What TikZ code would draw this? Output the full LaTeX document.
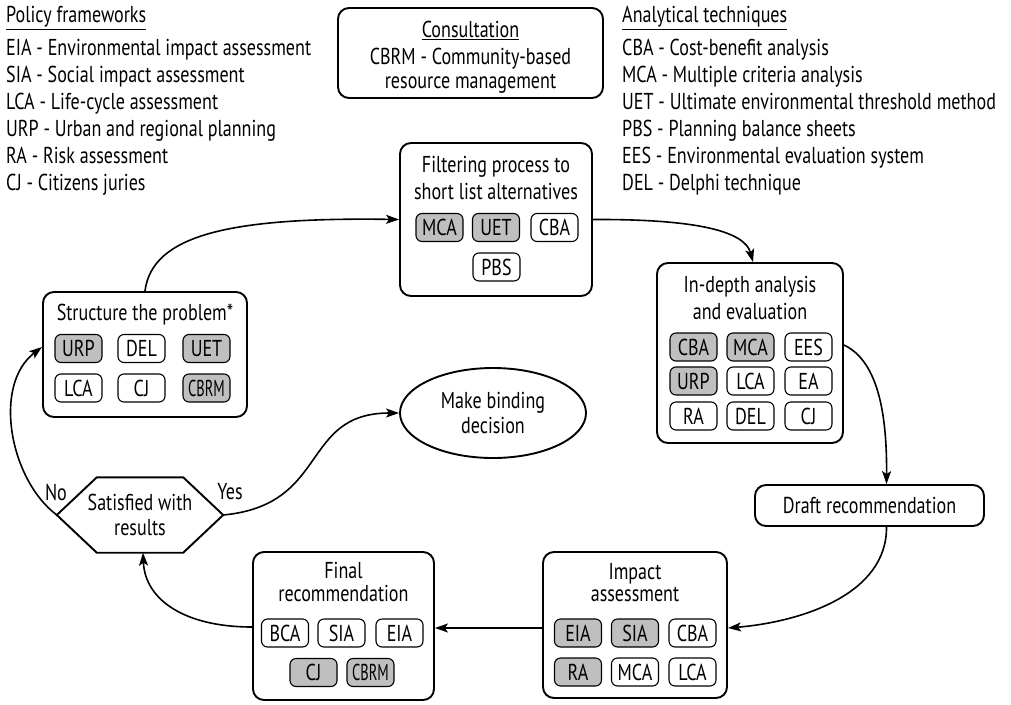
\documentclass[tikz,border=0pt]{standalone}
\usepackage{fontspec}
\usepackage{graphicx}
\setmainfont{PT Sans}[FakeStretch=0.785]
\usetikzlibrary{shapes.geometric,arrows.meta}
\newcommand{\cbrm}{\scalebox{0.8}[1]{CBRM}}
\newcommand{\fs}[1]{\fontsize{23}{#1}\selectfont}
\begin{document}
\begin{tikzpicture}[x=1pt,y=-1pt,
 every node/.style={font=\fs{27}},
 box/.style={draw, line width=1.9pt, rounded corners=11pt, inner sep=0pt},
 chip/.style={draw, line width=1.1pt, rounded corners=6pt, minimum width=47pt, minimum height=28pt, inner sep=0pt},
 gchip/.style={chip, fill=black!25},
 arr/.style={line width=1.6pt, -{Stealth[length=13pt,width=9pt,inset=3pt]}},
 lbl/.style={inner sep=0pt, anchor=base west},
 ttl/.style={inner sep=0pt, align=center},
]
\useasboundingbox (0,0) rectangle (1011,704);

% legends
\node[lbl] (pfT) at (6,23) {\underline{Policy frameworks}};
\foreach \t [count=\i] in {EIA - Environmental impact assessment, SIA - Social impact assessment, LCA - Life-cycle assessment, URP - Urban and regional planning, RA - Risk assessment, CJ - Citizens juries}
  \node[lbl] (pf\i) at (6,28+27*\i) {\t};
\node[lbl] (atT) at (622,23) {\underline{Analytical techniques}};
\foreach \t [count=\i] in {CBA - Cost-benefit analysis, MCA - Multiple criteria analysis, UET - Ultimate environmental threshold method, PBS - Planning balance sheets, EES - Environmental evaluation system, DEL - Delphi technique}
  \node[lbl] (at\i) at (622,28+27*\i) {\t};

% consultation
\node[box, minimum width=265pt, minimum height=90pt] (con) at (470.5,53) {};
\node[ttl] (conT) at (470.5,30) {\underline{Consultation}};
\node[ttl, font=\fs{24}] (conB) at (470.5,71) {CBRM - Community-based\\resource management};

% filtering
\node[box, minimum width=192pt, minimum height=153pt] (fp) at (496,219.5) {};
\node[ttl] (fpT) at (496,178) {Filtering process to\\short list alternatives};
\node[gchip] (fp1) at (439.5,227.5) {MCA};
\node[gchip] (fp2) at (496,227.5) {UET};
\node[chip] (fp3) at (554.5,227.5) {CBA};
\node[chip] (fp4) at (496.5,267) {PBS};

% in-depth
\node[box, minimum width=186pt, minimum height=180pt] (ida) at (750,353) {};
\node[ttl] (idaT) at (750,298) {In-depth analysis\\and evaluation};
\node[gchip] (id1) at (693.5,347) {CBA};
\node[gchip] (id2) at (750.5,347) {MCA};
\node[chip] (id3) at (808.5,347) {EES};
\node[gchip] (id4) at (693.5,381) {URP};
\node[chip] (id5) at (750.5,381) {LCA};
\node[chip] (id6) at (808.5,381) {EA};
\node[chip] (id7) at (693.5,416) {RA};
\node[chip] (id8) at (750.5,416) {DEL};
\node[chip] (id9) at (808.5,416) {CJ};

% draft
\node[box, minimum width=229pt, minimum height=41pt] (dr) at (869.5,505.5) {Draft recommendation};

% impact
\node[box, minimum width=184pt, minimum height=146pt] (ia) at (635,625) {};
\node[ttl, font=\fs{22}] (iaT) at (635,583) {Impact\\assessment};
\node[gchip] (ia1) at (578,633) {EIA};
\node[gchip] (ia2) at (635,633) {SIA};
\node[chip] (ia3) at (692.5,633) {CBA};
\node[gchip] (ia4) at (578,672) {RA};
\node[chip] (ia5) at (635,672) {MCA};
\node[chip] (ia6) at (692.5,672) {LCA};

% final
\node[box, minimum width=181pt, minimum height=148pt] (fr) at (343.5,626) {};
\node[ttl, font=\fs{23}] (frT) at (343.5,582) {Final\\recommendation};
\node[chip] (fr1) at (285,633) {BCA};
\node[chip] (fr2) at (341.5,633) {SIA};
\node[chip] (fr3) at (399.5,633) {EIA};
\node[gchip] (fr4) at (313.5,672.5) {CJ};
\node[gchip] (fr5) at (370.5,672.5) {\cbrm};

% structure
\node[box, minimum width=204pt, minimum height=125pt] (sp) at (145,354.5) {};
\node[ttl] (spT) at (145,315) {Structure the problem*};
\node[gchip] (sp1) at (78.5,348.5) {URP};
\node[chip] (sp2) at (141.5,348.5) {DEL};
\node[gchip] (sp3) at (206.5,348.5) {UET};
\node[chip] (sp4) at (78.5,388) {LCA};
\node[chip] (sp5) at (141.5,388) {CJ};
\node[gchip] (sp6) at (206.5,388) {\cbrm};

% decision ellipse
\node[draw, ellipse, line width=1.9pt, minimum width=186pt, minimum height=90pt, inner sep=0pt, align=center, font=\fs{25}] (mbd) at (493,413) {Make binding\\decision};

% hexagon
\node[inner sep=0pt, minimum width=166pt, minimum height=75pt, align=center, font=\fs{25}] (hex) at (140,515) {Satisfied with\\results};
\draw[line width=1.9pt, line join=miter] (hex.west) -- ([xshift=40pt]hex.north west) -- ([xshift=-40pt]hex.north east) -- (hex.east) -- ([xshift=-40pt]hex.south east) -- ([xshift=40pt]hex.south west) -- cycle;
\node[inner sep=0pt] (no) at (56,492) {No};
\node[inner sep=0pt] (yes) at (230,492) {Yes};

% connectors
\draw[arr] (sp.north) .. controls (152,235) and (230,217) .. (fp.west);
\draw[arr] (fp.east) .. controls (700,219) and (745,232) .. ([xshift=3pt]ida.north);
\draw[arr] ([yshift=8pt]ida.east) .. controls (880,362) and (887,420) .. ([xshift=17pt]dr.north);
\draw[arr] ([xshift=17pt]dr.south) .. controls (887,595) and (800,622) .. ([yshift=-3pt]ia.east);
\draw[arr] ([yshift=-3pt]ia.west) -- ([yshift=-2pt]fr.east);
\draw[arr] ([yshift=-1pt]fr.west) .. controls (185,627) and (145,600) .. ([xshift=3pt]hex.south);
\draw[arr] (hex.west) .. controls (10,480) and (-8,385) .. ([yshift=7.5pt]sp.west);
\draw[arr] (hex.east) .. controls (330,505) and (300,413) .. (mbd.west);
\end{tikzpicture}
\end{document}
